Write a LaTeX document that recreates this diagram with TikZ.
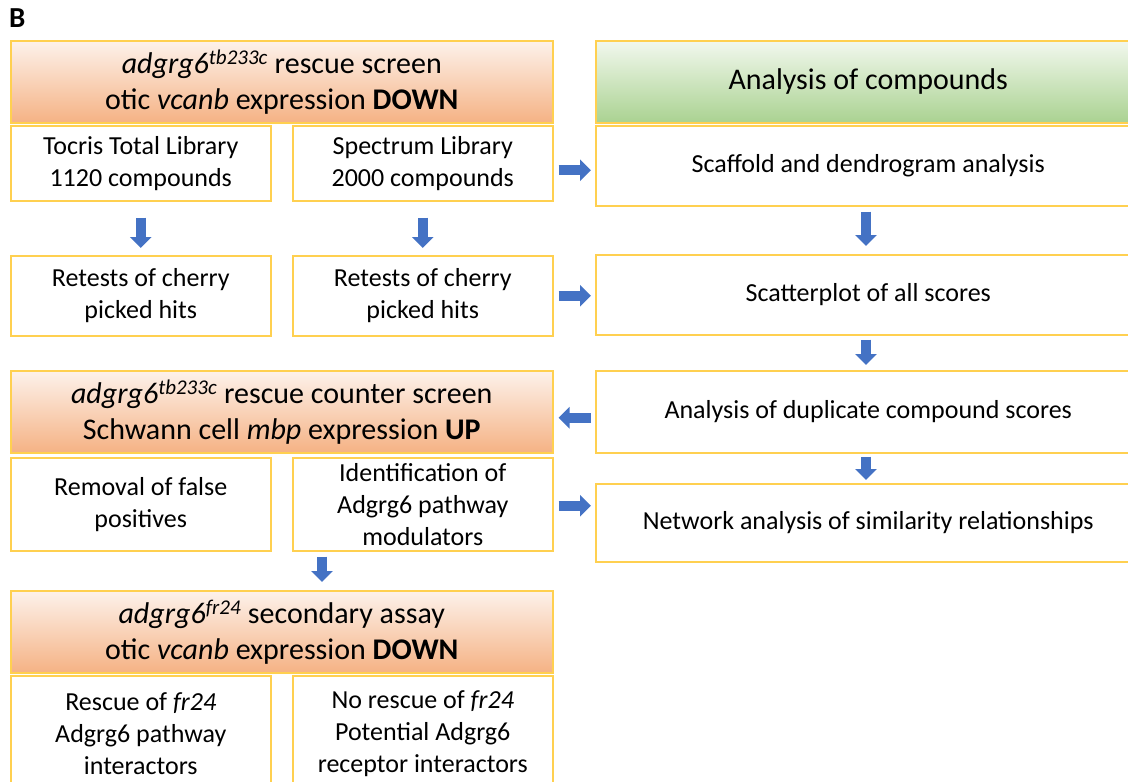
\documentclass[tikz,border=0pt]{standalone}
\usepackage{fontspec}
\setmainfont{Carlito}
\usetikzlibrary{arrows.meta}

\definecolor{boxline}{RGB}{255,208,80}
\definecolor{peachtop}{RGB}{253,242,235}
\definecolor{peachbot}{RGB}{245,178,132}
\definecolor{leaftop}{RGB}{242,248,238}
\definecolor{leafbot}{RGB}{170,210,145}
\definecolor{flowblue}{RGB}{68,114,196}

\newcommand{\allele}[1]{\textit{adgrg6}\textsuperscript{\textit{#1}}}

\tikzset{
  stepbox/.style={draw=boxline, line width=1.5pt, align=center, anchor=north west,
    inner sep=0pt, font=\fontsize{26pt}{32pt}\selectfont},
  headbox/.style={stepbox, minimum width=542pt, minimum height=82pt,
    shading=axis, top color=peachtop, bottom color=peachbot,
    font=\fontsize{30pt}{36pt}\selectfont},
  greenbox/.style={headbox, top color=leaftop, bottom color=leafbot},
  halfbox/.style={stepbox, minimum width=260pt},
  widebox/.style={stepbox, minimum width=545pt},
  flow/.style={flowblue, line width=10pt, -{Triangle[width=21pt,length=11pt]}},
}

\begin{document}
\begin{tikzpicture}[x=1pt,y=-1pt]
\useasboundingbox (0,0) rectangle (1128,782);
\clip (0,0) rectangle (1128,782);

\node[anchor=north west, inner sep=0pt, font=\fontsize{29pt}{32pt}\selectfont\bfseries] (panel) at (9,8) {B};

% left column
\node[headbox] (screen) at (10,40) {\allele{tb233c} rescue screen\\otic \textit{vcanb} expression \textbf{DOWN}};
\node[halfbox, minimum height=75pt] (tocris) at (10,125) {Tocris Total Library\\1120 compounds};
\node[halfbox, minimum height=75pt] (spectrum) at (292,125) {Spectrum Library\\2000 compounds};
\node[halfbox, minimum height=80pt] (retestA) at (10,255) {Retests of cherry\\picked hits};
\node[halfbox, minimum height=80pt] (retestB) at (292,255) {Retests of cherry\\picked hits};
\node[headbox] (counter) at (10,370) {\allele{tb233c} rescue counter screen\\Schwann cell \textit{mbp} expression \textbf{UP}};
\node[halfbox, minimum height=93pt] (removal) at (10,457) {Removal of false\\positives};
\node[halfbox, minimum height=93pt] (ident) at (292,457) {Identification of\\Adgrg6 pathway\\modulators};
\node[headbox] (secondary) at (10,590) {\allele{fr24} secondary assay\\otic \textit{vcanb} expression \textbf{DOWN}};
\node[halfbox, minimum height=115pt] (rescue) at (10,675) {Rescue of \textit{fr24}\\Adgrg6 pathway\\interactors};
\node[halfbox, minimum height=115pt] (norescue) at (292,675) {No rescue of \textit{fr24}\\Potential Adgrg6\\receptor interactors};

% right column
\node[greenbox, minimum width=545pt] (analysis) at (595,40) {Analysis of compounds};
\node[widebox, minimum height=80pt] (scaffold) at (595,125) {Scaffold and dendrogram analysis};
\node[widebox, minimum height=80pt] (scatter) at (595,254) {Scatterplot of all scores};
\node[widebox, minimum height=82pt] (duplicate) at (595,370) {Analysis of duplicate compound scores};
\node[widebox, minimum height=78pt] (network) at (595,483) {Network analysis of similarity relationships};

% arrows
\draw[flow, shorten <=16pt, shorten >=7pt] (tocris) -- (retestA);
\draw[flow, shorten <=16pt, shorten >=7pt] (spectrum) -- (retestB);
\draw[flow, shorten <=5pt, shorten >=4pt] ([yshift=-7pt]spectrum.east) -- ([yshift=-7pt]spectrum.east -| scaffold.west);
\draw[flow, shorten <=5pt, shorten >=4pt] (retestB.east) -- (retestB.east -| scatter.west);
\draw[flow, shorten <=4pt, shorten >=5pt] ([yshift=-6pt]duplicate.west) -- ([yshift=-6pt]duplicate.west -| counter.east);
\draw[flow, shorten <=5pt, shorten >=4pt] ([yshift=17pt]network.west -| ident.east) -- ([yshift=17pt]network.west);
\draw[flow, shorten <=5pt, shorten >=8pt] (ident.south -| 322,0) -- (secondary.north -| 322,0);
\draw[flow, shorten <=5pt, shorten >=8pt] (scaffold.south -| 866,0) -- (scatter.north -| 866,0);
\draw[flow, shorten <=4pt, shorten >=5pt] (scatter.south -| 866,0) -- (duplicate.north -| 866,0);
\draw[flow, shorten <=3pt, shorten >=3pt] (duplicate.south -| 866,0) -- (network.north -| 866,0);
\end{tikzpicture}
\end{document}
